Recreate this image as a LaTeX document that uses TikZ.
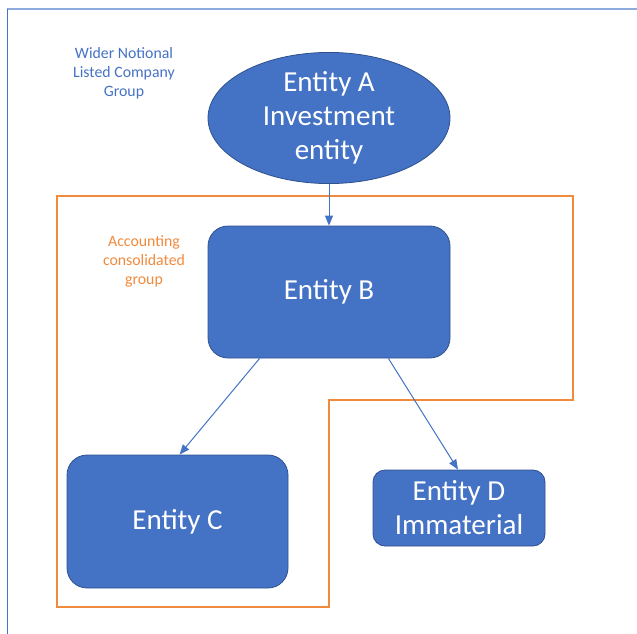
\documentclass[tikz,border=0pt]{standalone}
\usepackage{fontspec}
\setmainfont{Carlito}
\usetikzlibrary{arrows.meta,shapes.geometric,calc}
\definecolor{accblue}{HTML}{4472C4}
\definecolor{edgeblue}{HTML}{2F528F}
\definecolor{frameblue}{HTML}{8FAADC}
\definecolor{accorange}{HTML}{F08A3C}
\tikzset{
  entbox/.style={draw=edgeblue, line width=0.8pt, fill=accblue, rounded corners=20pt, text=white, font=\fontsize{29}{34}\selectfont, align=center, inner sep=0pt},
  entell/.style={ellipse, draw=edgeblue, line width=0.8pt, fill=accblue, text=white, font=\fontsize{29}{34}\selectfont, align=center, inner sep=0pt},
  link/.style={draw=accblue, line width=1pt, -{Triangle[length=10pt,width=8pt]}},
  bluelabel/.style={text=accblue, font=\fontsize{15.8}{19}\selectfont, align=center},
  orangelabel/.style={text=accorange, font=\fontsize{15.8}{19}\selectfont, align=center}
}
\begin{document}
\begin{tikzpicture}[x=1pt,y=-1pt]
\useasboundingbox (0,0) rectangle (637,634);
% outer frame
\draw[frameblue, line width=1.8pt] (7,9) -- (637,9);
\draw[accblue, line width=1pt] (7,9) -- (7,634);
% orange group boundary
\draw[accorange, line width=1.2pt] (57,196) -- (573,196) -- (573,400) -- (329,400) -- (329,607) -- (57,607) -- cycle;
% nodes
\node[entell, minimum width=242pt, minimum height=116pt] (A) at (329,118) {Entity A\\Investment\\entity};
\node[entbox, minimum width=242pt, minimum height=132pt] (B) at (329,292) {Entity B};
\node[entbox, minimum width=221pt, minimum height=133pt] (C) at (177.5,521.5) {Entity C};
\node[entbox, minimum width=172pt, minimum height=76pt, rounded corners=12pt] (D) at (459,508) {Entity D\\Immaterial};
\node[bluelabel] (L1) at (124,73) {Wider Notional\\Listed Company\\Group};
\node[orangelabel] (L2) at (144,261) {Accounting\\consolidated\\group};
% connectors
\draw[link] (A.south) -- (B.north);
\draw[link] ($(B.south west)+(52,0)$) -- ($(C.north west)+(113,0)$);
\draw[link] ($(B.south east)+(-62,0)$) -- ($(D.north)+(-1,0)$);
\end{tikzpicture}
\end{document}
